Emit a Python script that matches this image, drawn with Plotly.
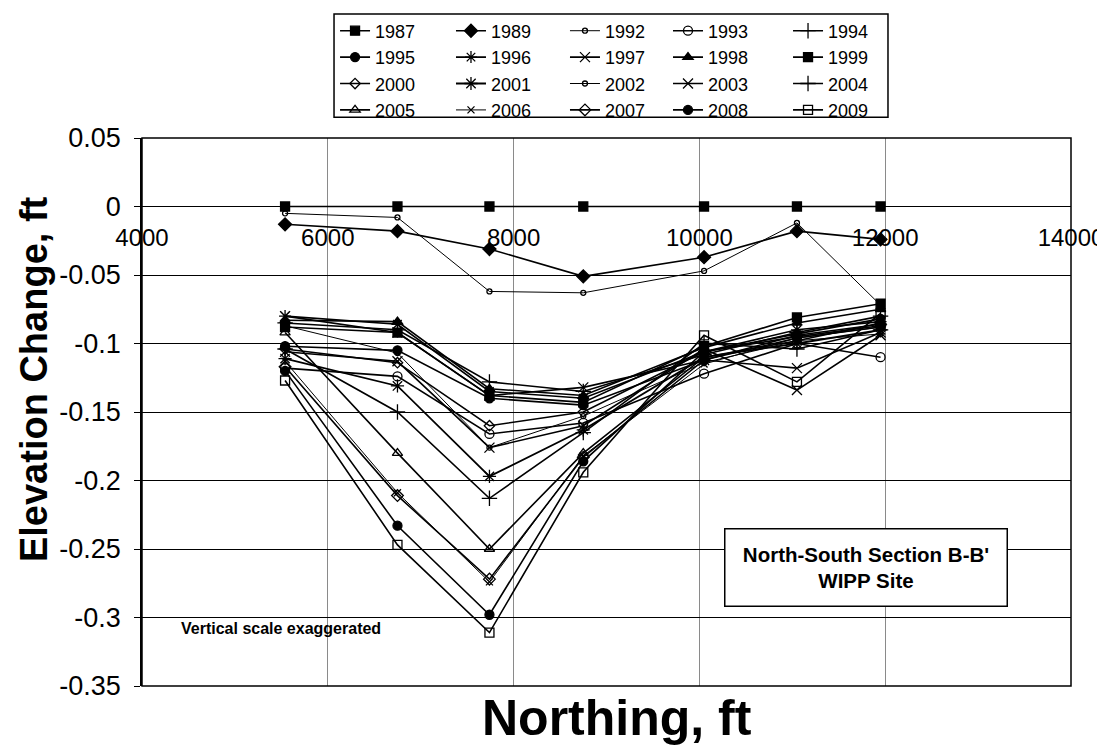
import plotly.graph_objects as go

# ---------------- data ----------------
northing = [5540, 6750, 7740, 8750, 10050, 11050, 11950]

y1987 = [0.000, 0.000, 0.000, 0.000, 0.000, 0.000, 0.000]
y1989 = [-0.013, -0.018, -0.031, -0.051, -0.037, -0.018, -0.024]
y1992 = [-0.005, -0.008, -0.062, -0.063, -0.047, -0.012, -0.072]
y1993 = [-0.118, -0.124, -0.166, -0.158, -0.122, -0.100, -0.110]
y1994 = [-0.085, -0.090, -0.128, -0.135, -0.108, -0.092, -0.080]
y1995 = [-0.102, -0.105, -0.140, -0.145, -0.112, -0.096, -0.088]
y1996 = [-0.080, -0.086, -0.135, -0.140, -0.106, -0.090, -0.084]
y1997 = [-0.080, -0.092, -0.138, -0.132, -0.112, -0.118, -0.092]
y1998 = [-0.083, -0.084, -0.133, -0.138, -0.103, -0.085, -0.075]
y1999 = [-0.088, -0.092, -0.138, -0.143, -0.102, -0.081, -0.071]
y2000 = [-0.104, -0.114, -0.160, -0.150, -0.106, -0.095, -0.087]
y2001 = [-0.111, -0.131, -0.197, -0.163, -0.110, -0.100, -0.090]
y2002 = [-0.087, -0.107, -0.176, -0.153, -0.114, -0.098, -0.093]
y2003 = [-0.106, -0.113, -0.176, -0.160, -0.104, -0.134, -0.094]
y2004 = [-0.104, -0.150, -0.213, -0.165, -0.100, -0.104, -0.090]
y2005 = [-0.092, -0.180, -0.250, -0.180, -0.110, -0.098, -0.085]
y2006 = [-0.113, -0.209, -0.274, -0.182, -0.115, -0.096, -0.088]
y2007 = [-0.117, -0.211, -0.272, -0.183, -0.112, -0.094, -0.086]
y2008 = [-0.120, -0.233, -0.298, -0.186, -0.106, -0.093, -0.082]
y2009 = [-0.127, -0.247, -0.311, -0.194, -0.094, -0.128, -0.078]

years = ["1987", "1989", "1992", "1993", "1994",
         "1995", "1996", "1997", "1998", "1999",
         "2000", "2001", "2002", "2003", "2004",
         "2005", "2006", "2007", "2008", "2009"]
series = [y1987, y1989, y1992, y1993, y1994,
          y1995, y1996, y1997, y1998, y1999,
          y2000, y2001, y2002, y2003, y2004,
          y2005, y2006, y2007, y2008, y2009]

x_tickvals = [4000, 6000, 8000, 10000, 12000, 14000]
x_ticktext = ["4000", "6000", "8000", "10000", "12000", "14000"]
y_tickvals = [0.05, 0, -0.05, -0.1, -0.15, -0.2, -0.25, -0.3, -0.35]
y_ticktext = ["0.05", "0", "-0.05", "-0.1", "-0.15", "-0.2", "-0.25", "-0.3", "-0.35"]

# ---------------- styles ----------------
symbols = ["square", "diamond", "circle-open", "circle-open", "cross-thin-open",
           "circle", "asterisk-open", "x-thin-open", "triangle-up", "square",
           "diamond-open", "asterisk-open", "circle-open", "x-thin-open", "cross-thin-open",
           "triangle-up-open", "x-thin-open", "diamond-open", "circle", "square-open"]
sizes = [9, 10, 5, 9, 11,
         9, 10, 10, 9, 9,
         8, 11, 5, 10, 11,
         9, 7, 9, 9, 9]
lwidths = [1.6, 1.6, 1.0, 1.6, 1.6,
           1.6, 1.6, 1.6, 1.6, 1.6,
           1.6, 1.8, 1.0, 1.6, 1.6,
           1.6, 1.0, 1.6, 1.6, 1.6]
legend_ids = ["legend", "legend2", "legend3", "legend4", "legend5"]

FONT = "Liberation Sans, Arial, sans-serif"

fig = go.Figure()
for i, (yr, vals) in enumerate(zip(years, series)):
    fig.add_trace(go.Scatter(
        x=northing, y=vals, name=yr, mode="lines+markers",
        line=dict(color="black", width=lwidths[i]),
        marker=dict(symbol=symbols[i], size=sizes[i], color="black",
                    line=dict(color="black", width=1.3)),
        legend=legend_ids[i % 5],
    ))

legend_x = [0.2078, 0.3326, 0.4553, 0.5662, 0.6954]
layout_legends = {}
for k, lid in enumerate(legend_ids):
    layout_legends[lid] = dict(
        x=legend_x[k], y=1.229, xanchor="left", yanchor="top",
        orientation="v", bgcolor="rgba(0,0,0,0)", borderwidth=0,
        font=dict(family=FONT, size=18, color="black"),
        itemwidth=30, tracegroupgap=0,
    )

fig.update_layout(
    width=1105, height=748,
    margin=dict(l=134, r=42, t=130, b=70, autoexpand=False),
    paper_bgcolor="white", plot_bgcolor="white",
    showlegend=True,
    **layout_legends,
    xaxis=dict(
        range=[4000, 14000], tickvals=x_tickvals, showticklabels=False,
        showgrid=True, gridcolor="#8a8a8a", gridwidth=1,
        zeroline=False, showline=False, ticks="",
    ),
    xaxis2=dict(
        overlaying="x", matches="x", anchor="free", position=0.875,
        tickvals=x_tickvals, ticktext=x_ticktext, showgrid=False,
        zeroline=False, showline=False, ticks="", ticklabelstandoff=14,
        tickfont=dict(family=FONT, size=24, color="black"),
    ),
    yaxis=dict(
        range=[-0.35, 0.05], tickvals=y_tickvals, ticktext=y_ticktext,
        showgrid=True, gridcolor="black", gridwidth=1,
        zeroline=False, showline=True, linecolor="black", linewidth=1.5,
        ticks="outside", ticklen=6, tickcolor="black", ticklabelstandoff=8,
        tickfont=dict(family=FONT, size=27, color="black"),
    ),
)

fig.add_trace(go.Scatter(x=[], y=[], xaxis="x2", yaxis="y", showlegend=False))

# plot-area border and legend frame
fig.add_shape(type="rect", xref="paper", yref="paper", x0=0, x1=1, y0=0, y1=1,
              line=dict(color="black", width=1.5), layer="above")
fig.add_shape(type="rect", xref="paper", yref="paper", x0=0.2067, x1=0.803,
              y0=1.038, y1=1.2265, line=dict(color="black", width=1.5))

# axis titles
fig.add_annotation(
    xref="paper", yref="paper", x=-0.1163, y=0.56, xanchor="center", yanchor="middle",
    text="<b>Elevation Change, ft</b>", textangle=-90, showarrow=False,
    font=dict(family=FONT, size=38, color="black"),
)
fig.add_annotation(
    xref="paper", yref="paper", x=0.511, y=-0.058, xanchor="center", yanchor="middle",
    text="<b>Northing, ft</b>", showarrow=False,
    font=dict(family=FONT, size=50, color="black"),
)

fig.add_annotation(
    xref="paper", yref="paper", x=0.626, y=0.2877, xanchor="left", yanchor="top",
    text="<b>North-South Section B-B'<br>WIPP Site</b>", showarrow=False,
    align="center", width=277, height=72, borderpad=2,
    bordercolor="black", borderwidth=1.5, bgcolor="white",
    font=dict(family=FONT, size=20.5, color="black"),
)
fig.add_annotation(
    xref="paper", yref="paper", x=0.04, y=0.105, xanchor="left", yanchor="middle",
    text="<b>Vertical scale exaggerated</b>", showarrow=False,
    font=dict(family=FONT, size=16, color="black"),
)

fig.write_html("out.html")
